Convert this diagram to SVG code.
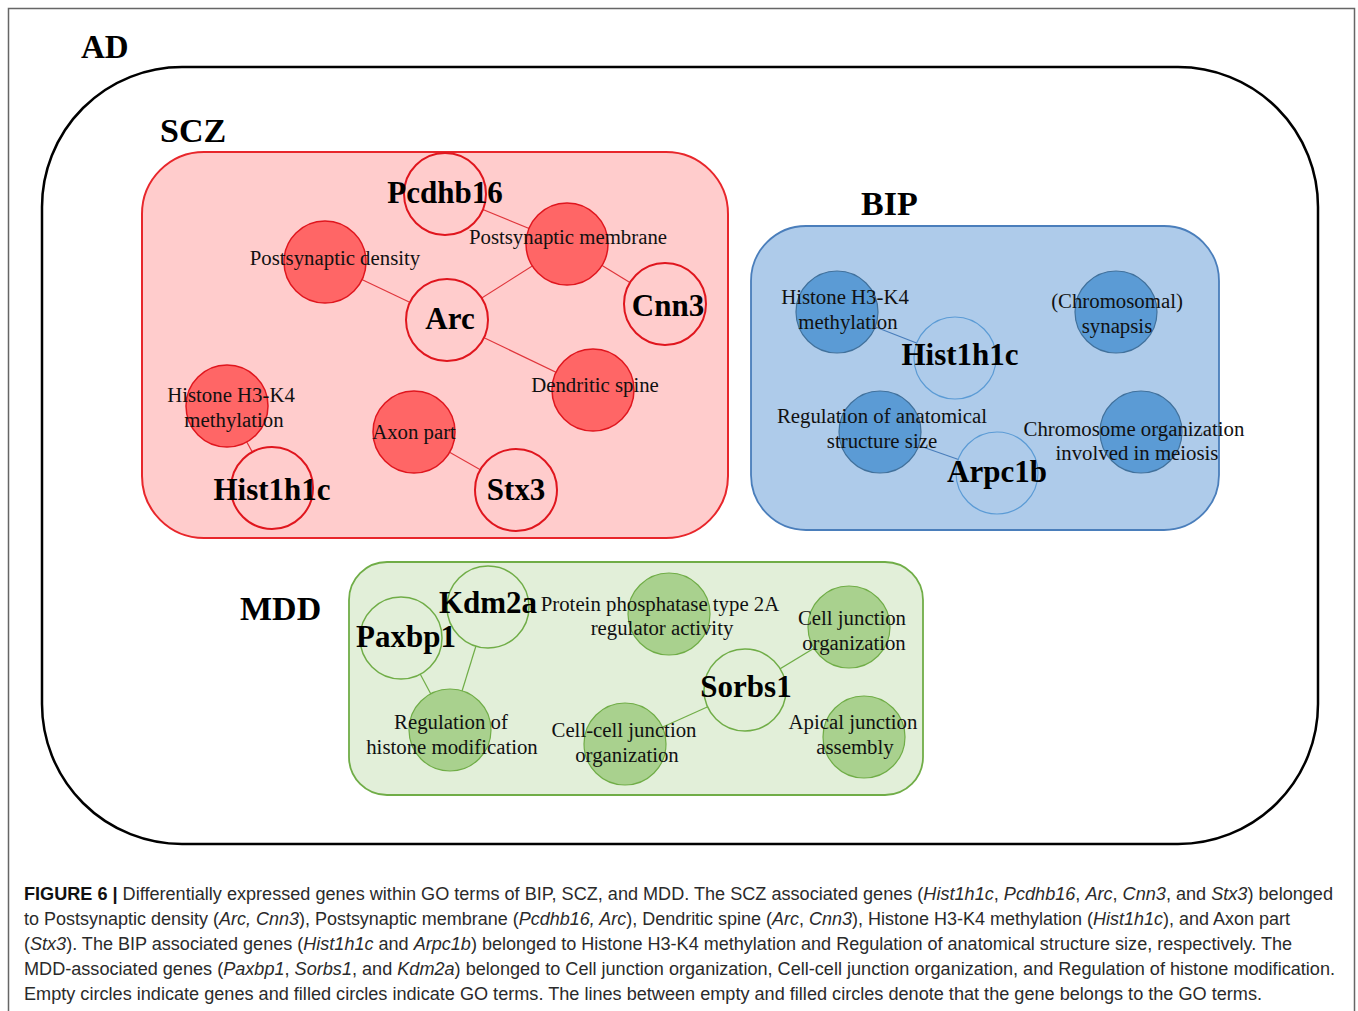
<svg xmlns="http://www.w3.org/2000/svg" width="1358" height="1011" viewBox="0 0 1358 1011">
<style>
.lbl{font-family:"Liberation Serif","Times New Roman",serif;font-weight:bold;font-size:34px;fill:#000}
.gene{font-family:"Liberation Serif","Times New Roman",serif;font-weight:bold;font-size:31px;fill:#000;text-anchor:middle}
.go{font-family:"Liberation Serif","Times New Roman",serif;font-size:20.8px;fill:#111;text-anchor:middle}
.cap{font-family:"Liberation Sans",Arial,sans-serif;font-size:17.5px;fill:#2a2a2a}
.scz-t{fill:#ff6666;stroke:#e0161e;stroke-width:1.5}
.scz-g{fill:#ffcccc;stroke:#e0161e;stroke-width:2}
.bip-t{fill:#5b9bd5;stroke:#41719c;stroke-width:1.2}
.bip-g{fill:#aecbea;stroke:#5b9bd5;stroke-width:1.2}
.mdd-t{fill:#a9d18e;stroke:#70ad47;stroke-width:1.2}
.mdd-g{fill:#e2efd9;stroke:#70ad47;stroke-width:1.5}
</style>
<rect x="0" y="0" width="1358" height="1011" fill="#ffffff"/>
<rect x="8.5" y="8.5" width="1346" height="1020" fill="none" stroke="#666" stroke-width="1.5"/>

<g id="AD">
<rect x="42" y="67" width="1276" height="777" rx="140" ry="140" fill="none" stroke="#000" stroke-width="2.5"/>
<text class="lbl" x="81" y="58" style="font-size:33px">AD</text>
</g>

<g id="SCZ">
<rect x="142" y="152" width="586" height="386" rx="62" ry="62" fill="#ffcccc" stroke="#e8262b" stroke-width="2"/>
<text class="lbl" x="160" y="142">SCZ</text>
</g>
<g id="BIP">
<rect x="751" y="226" width="468" height="304" rx="55" ry="55" fill="#aecbea" stroke="#4a7ebb" stroke-width="1.8"/>
<text class="lbl" x="861" y="215">BIP</text>
</g>
<g id="MDD">
<rect x="349" y="562" width="574" height="233" rx="38" ry="38" fill="#e2efd9" stroke="#70ad47" stroke-width="1.8"/>
<text class="lbl" x="240" y="620">MDD</text>
</g>

<g id="connectors" fill="none" stroke-width="1.2">
<g stroke="#e0363c">
<line x1="445" y1="194" x2="567" y2="244"/>
<line x1="567" y1="244" x2="665" y2="304"/>
<line x1="567" y1="244" x2="447" y2="320"/>
<line x1="325" y1="262" x2="447" y2="320"/>
<line x1="447" y1="320" x2="593" y2="390"/>
<line x1="227" y1="406" x2="272" y2="488"/>
<line x1="414" y1="432" x2="516" y2="490"/>
</g>
<g stroke="#4a7ebb">
<line x1="837" y1="312" x2="955" y2="358"/>
<line x1="880" y1="432" x2="997" y2="473"/>
</g>
<g stroke="#70ad47">
<line x1="401" y1="638" x2="450" y2="730"/>
<line x1="488" y1="607" x2="450" y2="730"/>
<line x1="745" y1="690" x2="849" y2="627"/>
<line x1="745" y1="690" x2="625" y2="744"/>
</g>
</g>

<!-- SCZ nodes -->
<g id="scz-postsynaptic-membrane"><circle class="scz-t" cx="567" cy="244" r="41"/></g>
<g id="scz-postsynaptic-density"><circle class="scz-t" cx="325" cy="262" r="41"/></g>
<g id="scz-dendritic-spine"><circle class="scz-t" cx="593" cy="390" r="41"/></g>
<g id="scz-histone"><circle class="scz-t" cx="227" cy="406" r="41"/></g>
<g id="scz-axon-part"><circle class="scz-t" cx="414" cy="432" r="41"/></g>
<g id="scz-pcdhb16"><circle class="scz-g" cx="445" cy="194" r="41"/></g>
<g id="scz-arc"><circle class="scz-g" cx="447" cy="320" r="41"/></g>
<g id="scz-cnn3"><circle class="scz-g" cx="665" cy="304" r="41"/></g>
<g id="scz-hist1h1c"><circle class="scz-g" cx="272" cy="488" r="41"/></g>
<g id="scz-stx3"><circle class="scz-g" cx="516" cy="490" r="41"/></g>

<!-- BIP nodes -->
<g id="bip-histone"><circle class="bip-t" cx="837" cy="312" r="41"/></g>
<g id="bip-synapsis"><circle class="bip-t" cx="1116" cy="312" r="41"/></g>
<g id="bip-regulation"><circle class="bip-t" cx="880" cy="432" r="41"/></g>
<g id="bip-meiosis"><circle class="bip-t" cx="1141" cy="432" r="41"/></g>
<g id="bip-hist1h1c"><circle class="bip-g" cx="955" cy="358" r="41"/></g>
<g id="bip-arpc1b"><circle class="bip-g" cx="997" cy="473" r="41"/></g>

<!-- MDD nodes -->
<g id="mdd-protein"><circle class="mdd-t" cx="669" cy="614" r="41"/></g>
<g id="mdd-cell-junction"><circle class="mdd-t" cx="849" cy="627" r="41"/></g>
<g id="mdd-regulation-histone"><circle class="mdd-t" cx="450" cy="730" r="41"/></g>
<g id="mdd-cell-cell"><circle class="mdd-t" cx="625" cy="744" r="41"/></g>
<g id="mdd-apical"><circle class="mdd-t" cx="864" cy="737" r="41"/></g>
<g id="mdd-paxbp1"><circle class="mdd-g" cx="401" cy="638" r="41"/></g>
<g id="mdd-kdm2a"><circle class="mdd-g" cx="488" cy="607" r="41"/></g>
<g id="mdd-sorbs1"><circle class="mdd-g" cx="745" cy="690" r="41"/></g>

<!-- labels -->
<g id="labels">
<text class="gene" x="445" y="203">Pcdhb16</text>
<text class="go" x="568" y="244">Postsynaptic membrane</text>
<text class="go" x="335" y="265">Postsynaptic density</text>
<text class="gene" x="450" y="329">Arc</text>
<text class="gene" x="668" y="316">Cnn3</text>
<text class="go" x="595" y="392">Dendritic spine</text>
<text class="go" x="231" y="402">Histone H3-K4</text>
<text class="go" x="234" y="427">methylation</text>
<text class="go" x="414" y="439">Axon part</text>
<text class="gene" x="272" y="500">Hist1h1c</text>
<text class="gene" x="516" y="500">Stx3</text>

<text class="go" x="845" y="304">Histone H3-K4</text>
<text class="go" x="848" y="329">methylation</text>
<text class="gene" x="960" y="365">Hist1h1c</text>
<text class="go" x="1117" y="308">(Chromosomal)</text>
<text class="go" x="1117" y="333">synapsis</text>
<text class="go" x="882" y="423">Regulation of anatomical</text>
<text class="go" x="882" y="448">structure size</text>
<text class="gene" x="997" y="482">Arpc1b</text>
<text class="go" x="1134" y="436">Chromosome organization</text>
<text class="go" x="1137" y="460">involved in meiosis</text>

<text class="gene" x="406" y="647">Paxbp1</text>
<text class="gene" x="488" y="613">Kdm2a</text>
<text class="go" x="660" y="611">Protein phosphatase type 2A</text>
<text class="go" x="662" y="635">regulator activity</text>
<text class="go" x="852" y="625">Cell junction</text>
<text class="go" x="854" y="650">organization</text>
<text class="gene" x="746" y="697">Sorbs1</text>
<text class="go" x="451" y="729">Regulation of</text>
<text class="go" x="452" y="754">histone modification</text>
<text class="go" x="624" y="737">Cell-cell junction</text>
<text class="go" x="627" y="762">organization</text>
<text class="go" x="853" y="729">Apical junction</text>
<text class="go" x="855" y="754">assembly</text>
</g>

<g id="caption">
<text class="cap" x="24" y="900" textLength="1309" lengthAdjust="spacingAndGlyphs"><tspan font-weight="bold" fill="#111">FIGURE 6 |</tspan> Differentially expressed genes within GO terms of BIP, SCZ, and MDD. The SCZ associated genes (<tspan font-style="italic">Hist1h1c</tspan>, <tspan font-style="italic">Pcdhb16</tspan>, <tspan font-style="italic">Arc</tspan>, <tspan font-style="italic">Cnn3</tspan>, and <tspan font-style="italic">Stx3</tspan>) belonged</text>
<text class="cap" x="24" y="925" textLength="1266" lengthAdjust="spacingAndGlyphs">to Postsynaptic density (<tspan font-style="italic">Arc, Cnn3</tspan>), Postsynaptic membrane (<tspan font-style="italic">Pcdhb16, Arc</tspan>), Dendritic spine (<tspan font-style="italic">Arc</tspan>, <tspan font-style="italic">Cnn3</tspan>), Histone H3-K4 methylation (<tspan font-style="italic">Hist1h1c</tspan>), and Axon part</text>
<text class="cap" x="24" y="950" textLength="1268" lengthAdjust="spacingAndGlyphs">(<tspan font-style="italic">Stx3</tspan>). The BIP associated genes (<tspan font-style="italic">Hist1h1c</tspan> and <tspan font-style="italic">Arpc1b</tspan>) belonged to Histone H3-K4 methylation and Regulation of anatomical structure size, respectively. The</text>
<text class="cap" x="24" y="975" textLength="1311" lengthAdjust="spacingAndGlyphs">MDD-associated genes (<tspan font-style="italic">Paxbp1</tspan>, <tspan font-style="italic">Sorbs1</tspan>, and <tspan font-style="italic">Kdm2a</tspan>) belonged to Cell junction organization, Cell-cell junction organization, and Regulation of histone modification.</text>
<text class="cap" x="24" y="1000" textLength="1238" lengthAdjust="spacingAndGlyphs">Empty circles indicate genes and filled circles indicate GO terms. The lines between empty and filled circles denote that the gene belongs to the GO terms.</text>
</g>
</svg>
